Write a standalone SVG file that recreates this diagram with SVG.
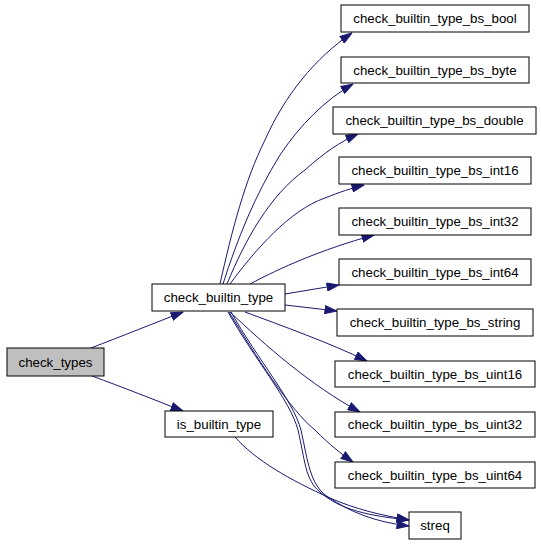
<svg xmlns="http://www.w3.org/2000/svg" width="541" height="544" viewBox="0 0 541 544">
<style>
.node rect{fill:#ffffff;stroke:#000000;stroke-width:1}
.node text{font-family:"Liberation Sans",Arial,Helvetica,sans-serif;font-size:13.3px;fill:#000000;text-anchor:middle}
.edges path{fill:none;stroke:#191970;stroke-width:1;marker-end:url(#arrow)}
</style>
<defs>
<marker id="arrow" markerUnits="userSpaceOnUse" viewBox="0 0 13 9" refX="12.5" refY="4.5" markerWidth="13" markerHeight="9" orient="auto">
<path d="M0.5,0.5 L12.5,4.5 L0.5,8.5 Z" fill="#191970" stroke="#191970" stroke-width="1"/>
</marker>
</defs>
<rect width="541" height="544" fill="#ffffff"/>
<g class="edges" id="edges">
<path d="M91,348 C122,336 155,323 183,312"/>
<path d="M92,376 C122,387 155,400 183,411"/>
<path d="M220,284 C232,230 245,180 265,140 C285,95 315,58 352,33"/>
<path d="M223,284 C237,240 255,195 280,155 C300,125 325,100 353,84"/>
<path d="M227,284 C245,240 270,195 305,170 C325,152 340,142 358,134"/>
<path d="M230,284 C255,250 290,210 325,198 C340,192 352,188 364,185"/>
<path d="M250,284 C280,268 320,250 374,235"/>
<path d="M285,294 L339,285"/>
<path d="M285,305 L337,311"/>
<path d="M245,312 C280,325 330,343 367,361"/>
<path d="M230,312 C265,345 310,385 360,412"/>
<path d="M229,312 C255,355 290,410 315,430 C330,445 340,453 353,462"/>
<path d="M228,312 C255,360 290,400 298,430 C305,460 305,480 320,492 C340,510 370,516 409,520"/>
<path d="M231,312 C258,360 293,400 301,430 C308,462 310,485 328,497 C350,512 375,522 409,526"/>
<path d="M235,437 C255,460 290,480 330,498 C355,509 380,515 409,520"/>
</g>
<g class="node" id="check_types"><rect x="7" y="348" width="97" height="28" style="fill:#bfbfbf"/><text x="55.5" y="366.5">check_types</text></g>
<g class="node" id="check_builtin_type"><rect x="152" y="284" width="133" height="27"/><text x="218.5" y="302">check_builtin_type</text></g>
<g class="node" id="is_builtin_type"><rect x="165" y="411" width="108" height="26"/><text x="219" y="428.5">is_builtin_type</text></g>
<g class="node" id="bs_bool"><rect x="341" y="5" width="188" height="27"/><text x="435" y="23">check_builtin_type_bs_bool</text></g>
<g class="node" id="bs_byte"><rect x="341" y="57" width="188" height="26"/><text x="435" y="74.5">check_builtin_type_bs_byte</text></g>
<g class="node" id="bs_double"><rect x="333" y="107" width="203" height="27"/><text x="434.5" y="125">check_builtin_type_bs_double</text></g>
<g class="node" id="bs_int16"><rect x="339" y="157" width="192" height="27"/><text x="435" y="175">check_builtin_type_bs_int16</text></g>
<g class="node" id="bs_int32"><rect x="339" y="208" width="192" height="27"/><text x="435" y="226">check_builtin_type_bs_int32</text></g>
<g class="node" id="bs_int64"><rect x="339" y="259" width="192" height="26"/><text x="435" y="276.5">check_builtin_type_bs_int64</text></g>
<g class="node" id="bs_string"><rect x="337" y="309" width="196" height="27"/><text x="435" y="327">check_builtin_type_bs_string</text></g>
<g class="node" id="bs_uint16"><rect x="335" y="361" width="200" height="26"/><text x="435" y="378.5">check_builtin_type_bs_uint16</text></g>
<g class="node" id="bs_uint32"><rect x="335" y="412" width="200" height="25"/><text x="435" y="429">check_builtin_type_bs_uint32</text></g>
<g class="node" id="bs_uint64"><rect x="335" y="462" width="200" height="26"/><text x="435" y="479.5">check_builtin_type_bs_uint64</text></g>
<g class="node" id="streq"><rect x="409" y="512" width="52" height="27"/><text x="435" y="530">streq</text></g>
</svg>
